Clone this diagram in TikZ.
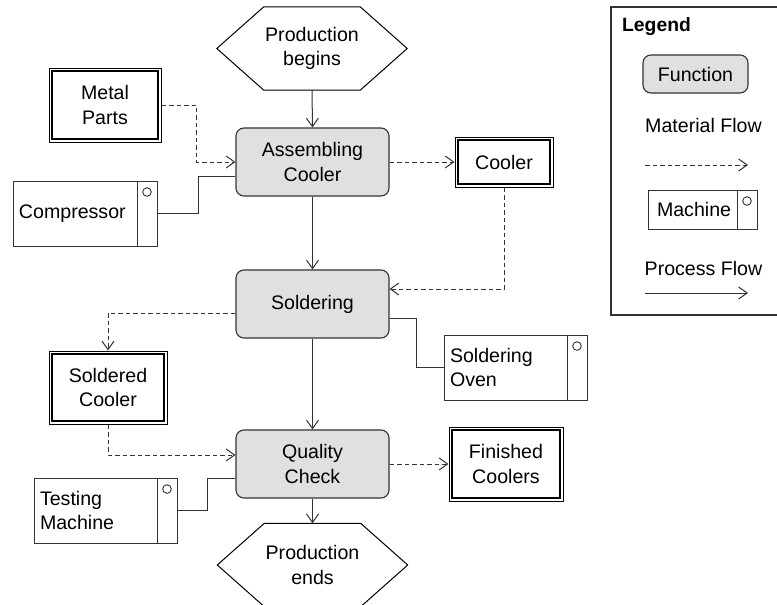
\documentclass[tikz,border=0pt]{standalone}
\usepackage{fontspec}
\setmainfont{Liberation Sans}
\usetikzlibrary{arrows.meta,calc}
\definecolor{linegray}{RGB}{51,51,51}
\definecolor{fnfill}{RGB}{224,224,224}
\begin{document}
\begin{tikzpicture}[x=1pt,y=-1pt,
  every node/.style={font=\fontsize{19.6}{24.5}\selectfont, inner sep=0pt},
  function/.style={draw=linegray, line width=1.1pt, fill=fnfill, rounded corners=8pt,
    align=center, minimum width=153pt, minimum height=68pt},
  material/.style={draw=black, line width=1pt, align=center,
    path picture={\draw[line width=2pt]
      ([xshift=3pt,yshift=-3pt]path picture bounding box.north west) rectangle
      ([xshift=-3pt,yshift=3pt]path picture bounding box.south east);}},
  machine/.style={draw=linegray, line width=1pt, align=left, inner xsep=6pt,
    path picture={
      \draw[linegray, line width=1pt]
        ([xshift=-20pt]path picture bounding box.north east) --
        ([xshift=-20pt]path picture bounding box.south east);
      \draw[linegray, line width=0.9pt]
        ([xshift=-10pt,yshift=-11pt]path picture bounding box.north east) circle[radius=4.3pt];}},
  terminal/.style={align=center, minimum width=190pt, minimum height=83pt},
  hexline/.style={draw=black, line width=1pt},
  proc/.style={draw=linegray, line width=1pt, -{Straight Barb[length=8.5pt,width=12pt]}},
  matflow/.style={proc, dash pattern=on 4.5pt off 3pt},
  link/.style={draw=linegray, line width=1pt}
]
\useasboundingbox (0,0) rectangle (777,605);

% start / end terminals (hexagons)
\node[terminal] (pb) at (312,48.5) {Production\\begins};
\draw[hexline] (pb.west) -- ([xshift=47pt]pb.north west) -- ([xshift=-47pt]pb.north east)
  -- (pb.east) -- ([xshift=-47pt]pb.south east) -- ([xshift=47pt]pb.south west) -- cycle;
\node[terminal] (pe) at (312.5,565) {Production\\ends};
\draw[hexline] (pe.west) -- ([xshift=47pt]pe.north west) -- ([xshift=-47pt]pe.north east)
  -- (pe.east) -- ([xshift=-47pt]pe.south east) -- ([xshift=47pt]pe.south west) -- cycle;

% functions
\node[function] (asm) at (312.5,162) {Assembling\\Cooler};
\node[function] (sold) at (312.5,304) {Soldering};
\node[function] (qc) at (312.5,464) {Quality\\Check};

% materials
\node[material, minimum width=112pt, minimum height=74pt] (metal) at (105,105) {Metal\\Parts};
\node[material, minimum width=98pt, minimum height=50pt] (cooler) at (504,162) {Cooler};
\node[material, minimum width=118pt, minimum height=73pt] (scool) at (108,387.5) {Soldered\\Cooler};
\node[material, minimum width=114pt, minimum height=74pt] (fin) at (506,464) {Finished\\Coolers};

% machines
\node[machine, text width=132pt, minimum height=65pt] (comp) at (85,213.5) {Compressor};
\node[machine, text width=131pt, minimum height=65pt] (oven) at (515.5,367.5) {Soldering\\Oven};
\node[machine, text width=131pt, minimum height=65pt] (test) at (105.5,510.5) {Testing\\Machine};

% process flow
\draw[proc] (pb.south) -- (asm.north);
\draw[proc] (asm.south) -- (sold.north);
\draw[proc] (sold.south) -- (qc.north);
\draw[proc] (qc.south) -- (pe.north);

% material flow
\draw[matflow] (metal.east) -| ($(asm.west)+(-39,0)$) -- (asm.west);
\draw[matflow] (asm.east) -- (cooler.west);
\draw[matflow] (cooler.south) |- ($(sold.east)+(0,-15)$);
\draw[matflow] ($(sold.west)+(0,9)$) -| (scool.north);
\draw[matflow] (scool.south) |- ($(qc.west)+(0,-9)$);
\draw[matflow] (qc.east) -- (fin.west);

% machine links
\draw[link] (comp.east) -| ($(asm.west)+(-37,14)$) -- ($(asm.west)+(0,14)$);
\draw[link] ($(sold.east)+(0,14)$) -- ++(27,0) |- (oven.west);
\draw[link] (test.east) -- ++(30,0) |- ($(qc.west)+(0,14)$);

% legend
\draw[draw=linegray, line width=1.2pt] (611,7) rectangle (800,315);
\node[anchor=west, font=\fontsize{19.3}{24.5}\selectfont\bfseries] (lgtitle) at (622,27) {Legend};
\node[function, minimum width=105pt, minimum height=38pt] (lgfn) at (695.5,74) {Function};
\node (lgmat) at (703.5,125) {Material Flow};
\coordinate (lgm1) at (645,165);
\coordinate (lgm2) at (748,165);
\draw[matflow] (lgm1) -- (lgm2);
\node[machine, inner xsep=9pt, text width=91pt, minimum height=39pt] (lgmach) at (702.5,209.5) {Machine};
\node (lgproc) at (703.5,268) {Process Flow};
\coordinate (lgp1) at (645,293);
\coordinate (lgp2) at (748,293);
\draw[proc] (lgp1) -- (lgp2);
\end{tikzpicture}
\end{document}
